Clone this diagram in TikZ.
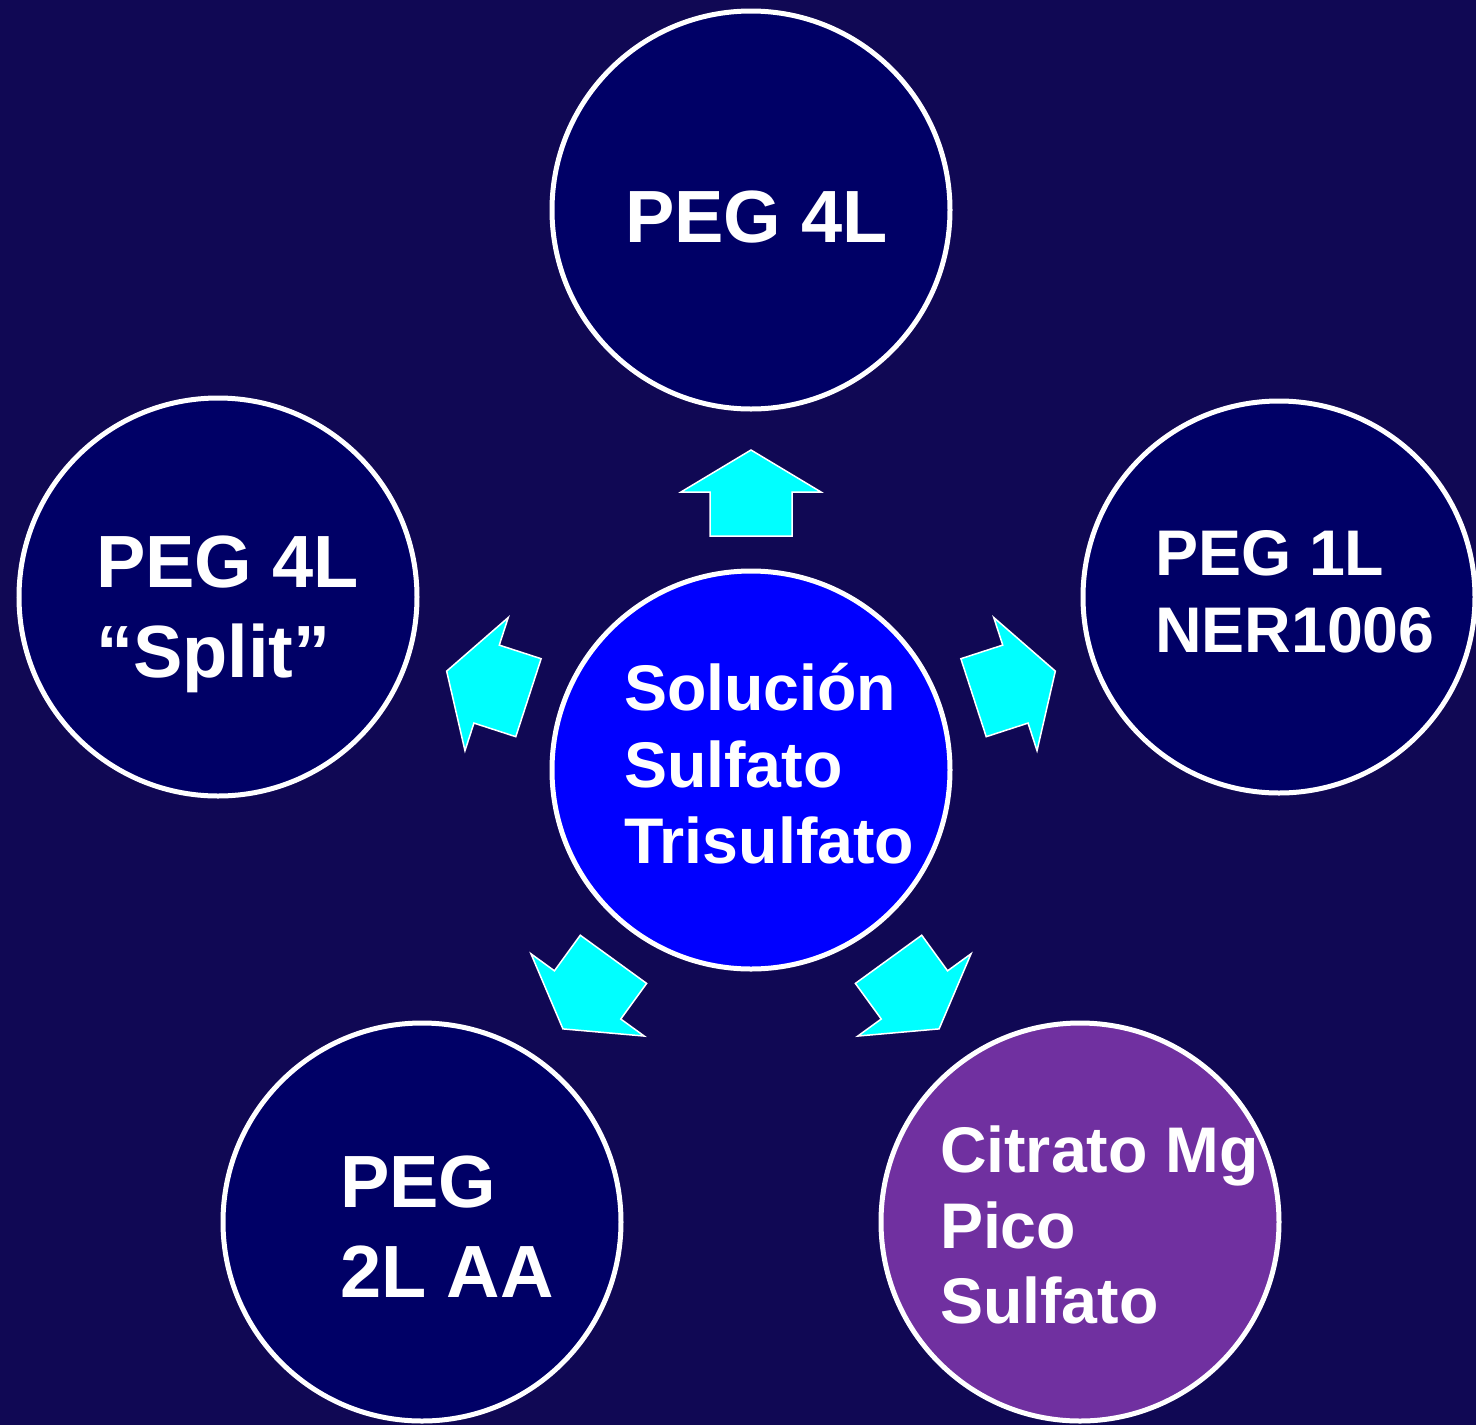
\documentclass[tikz,border=0pt]{standalone}
\usepackage{fontspec}
\setmainfont{Liberation Sans}
\definecolor{bg}{RGB}{16,8,84}
\definecolor{navy}{RGB}{0,0,102}
\definecolor{centerblue}{RGB}{0,0,255}
\definecolor{plum}{RGB}{112,48,160}
\definecolor{aqua}{RGB}{0,255,255}
\begin{document}
\begin{tikzpicture}[x=1pt,y=-1pt,
  bub/.style={circle, draw=white, line width=5pt, minimum size=398pt, inner sep=0pt},
  bigtxt/.style={text=white, font=\fontsize{74}{90}\selectfont\bfseries, anchor=base west, inner sep=0pt, outer sep=0pt},
  smalltxt/.style={text=white, font=\fontsize{64.5}{77}\selectfont\bfseries, anchor=base west, inner sep=0pt, outer sep=0pt},
  blockarrow/.style={fill=aqua, draw=white, line width=1.5pt, line join=miter}]
\useasboundingbox (0,0) rectangle (1476,1425);
\fill[bg] (0,0) rectangle (1476,1425);

% circles
\node[bub, fill=navy] (top) at (751,210) {};
\node[bub, fill=navy] (left) at (218,597) {};
\node[bub, fill=navy, minimum size=392pt] (right) at (1279,597) {};
\node[bub, fill=navy] (botleft) at (422,1222) {};
\node[bub, fill=plum] (botright) at (1080,1222) {};
\node[bub, fill=centerblue] (center) at (751,770) {};

% block arrows
\foreach \a in {0,72,144,216,288} {
  \begin{scope}[shift={(center.center)}, rotate=\a]
    \draw[blockarrow] (0,-320) -- (70,-278) -- (41,-278) -- (41,-234)
      -- (-41,-234) -- (-41,-278) -- (-70,-278) -- cycle;
  \end{scope}
}

% texts
\node[bigtxt] (topa) at (625,242) {PEG 4L};

\node[bigtxt] (lefta) at (96,587) {PEG 4L};
\node[bigtxt] (leftb) at (96,677) {“Split”};

\node[smalltxt] (righta) at (1155,575) {PEG 1L};
\node[smalltxt] (rightb) at (1155,652) {NER1006};

\node[smalltxt] (centa) at (624,710) {Solución};
\node[smalltxt] (centb) at (624,787) {Sulfato};
\node[smalltxt] (centc) at (624,863) {Trisulfato};

\node[bigtxt] (bla) at (340,1207) {PEG};
\node[bigtxt] (blb) at (340,1297) {2L AA};

\node[smalltxt] (bra) at (940,1172) {Citrato Mg};
\node[smalltxt] (brb) at (940,1248) {Pico};
\node[smalltxt] (brc) at (940,1323) {Sulfato};
\end{tikzpicture}
\end{document}
